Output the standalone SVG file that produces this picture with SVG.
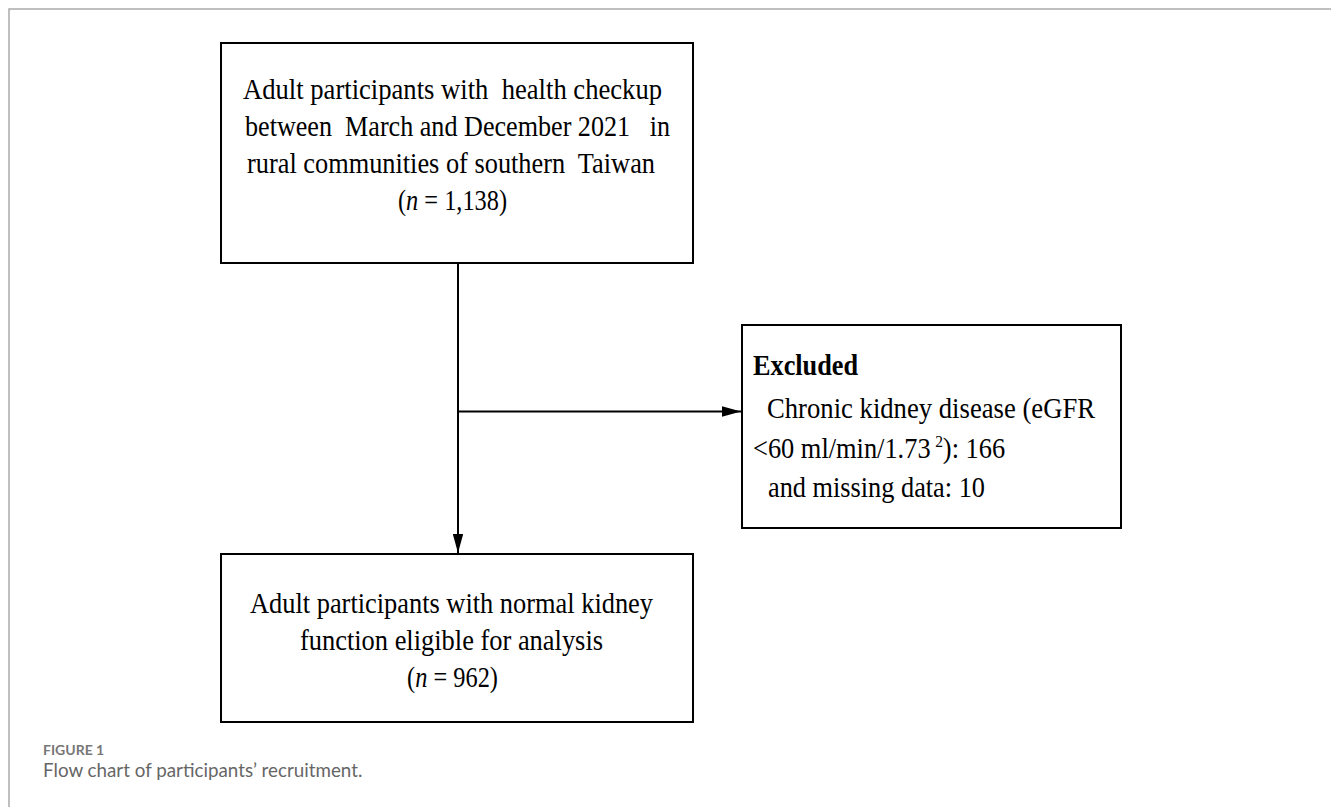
<svg xmlns="http://www.w3.org/2000/svg" width="1331" height="807" viewBox="0 0 1331 807">
<style>
.box{fill:#fff;stroke:#000;stroke-width:2}
.t{font-family:"Liberation Serif","Times New Roman",serif;font-size:29px;fill:#000;white-space:pre}
.m{text-anchor:middle}
.con{stroke:#000;stroke-width:2;fill:none}
.cap{font-family:Lato,"Open Sans","Noto Sans",sans-serif}
</style>
<defs>
<marker id="arr" viewBox="0 0 10 10" refX="10" refY="5" markerWidth="9.5" markerHeight="5.2" markerUnits="strokeWidth" orient="auto" preserveAspectRatio="none">
<path d="M0,0 L10,5 L0,10 z" fill="#000"/>
</marker>
</defs>
<rect width="1331" height="807" fill="#fff"/>
<path d="M9,807 V9 H1331" fill="none" stroke="#aaa" stroke-width="1.5"/>
<g id="connectors">
<line class="con" x1="458" y1="263" x2="458" y2="553" marker-end="url(#arr)"/>
<line class="con" x1="458" y1="411.5" x2="741" y2="411.5" marker-end="url(#arr)"/>
</g>
<g id="n1">
<rect class="box" x="221" y="43" width="472" height="220"/>
<text class="t" x="243" y="99" textLength="419" lengthAdjust="spacingAndGlyphs">Adult participants with  health checkup</text>
<text class="t" x="245" y="136" textLength="425" lengthAdjust="spacingAndGlyphs">between  March and December 2021   in</text>
<text class="t" x="247" y="173" textLength="408" lengthAdjust="spacingAndGlyphs">rural communities of southern  Taiwan</text>
<text class="t m" transform="translate(452.5,210) scale(0.84,1)">(<tspan font-style="italic">n</tspan> = 1,138)</text>
</g>
<g id="n2">
<rect class="box" x="742" y="325" width="379" height="203"/>
<text class="t" x="753" y="375" font-weight="bold" textLength="105" lengthAdjust="spacingAndGlyphs">Excluded</text>
<text class="t" x="767" y="418" textLength="328" lengthAdjust="spacingAndGlyphs">Chronic kidney disease (eGFR</text>
<text class="t" transform="translate(753,458) scale(0.91,1)">&lt;60 ml/min/1.73<tspan font-size="17" dx="5" dy="-11">2</tspan><tspan dy="11">): 166</tspan></text>
<text class="t" x="768" y="497" textLength="217" lengthAdjust="spacingAndGlyphs">and missing data: 10</text>
</g>
<g id="n3">
<rect class="box" x="221" y="554" width="472" height="168"/>
<text class="t" x="250" y="613" textLength="403" lengthAdjust="spacingAndGlyphs">Adult participants with normal kidney</text>
<text class="t" x="300" y="650" textLength="303" lengthAdjust="spacingAndGlyphs">function eligible for analysis</text>
<text class="t m" transform="translate(452.5,687) scale(0.84,1)">(<tspan font-style="italic">n</tspan> = 962)</text>
</g>
<g id="caption">
<text class="cap" x="43" y="755" font-size="14" font-weight="bold" fill="#777">FIGURE 1</text>
<text class="cap" x="43" y="777" font-size="18.8" fill="#666">Flow chart of participants’ recruitment.</text>
</g>
</svg>
